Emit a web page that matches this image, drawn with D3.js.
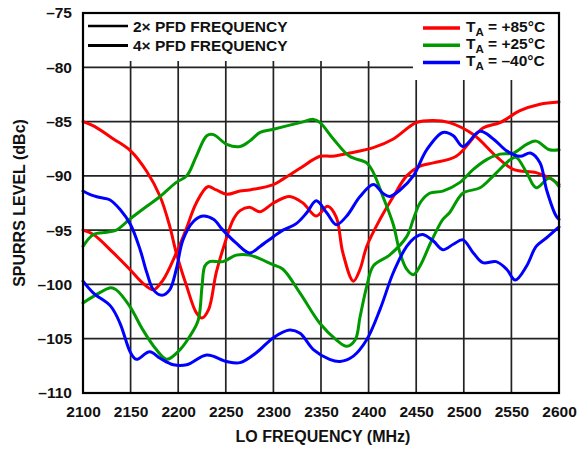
<!DOCTYPE html>
<html>
<head>
<meta charset="utf-8">
<script src="https://cdnjs.cloudflare.com/ajax/libs/d3/7.8.5/d3.min.js"></script>
<style>
  html, body { margin: 0; padding: 0; background: #fff; }
  svg { display: block; }
  text { font-family: "Liberation Sans", Arial, Helvetica, sans-serif; font-weight: bold; fill: #111; }
</style>
</head>
<body>
<div id="chart"></div>
<script>
// ---------- data ----------
const xTicks = [2100, 2150, 2200, 2250, 2300, 2350, 2400, 2450, 2500, 2550, 2600];
const yTicks = [-110, -105, -100, -95, -90, -85, -80, -75];
const xLabel = "LO FREQUENCY (MHz)";
const yLabel = "SPURRS LEVEL (dBc)";
const styleLegend = ["2× PFD FREQUENCY", "4× PFD FREQUENCY"];
const tempLegend = ["+85°C", "+25°C", "–40°C"];
const tempColors = ["#ff0000", "#009a00", "#0000ff"];

// +85°C, 2x PFD
const red2xFreq  = [2100,2111,2132,2150,2167,2181,2191,2198,2209,2219,2225,2232,2240,2249,2258,2265,2275,2286,2300,2317,2331,2345,2357,2366,2373,2384,2391,2398,2412,2426,2440,2454,2468,2492,2520,2538,2559,2580,2600];
const red2xLevel = [-85,-85.4,-86.6,-87.7,-89.6,-91.9,-94.6,-97.1,-100.2,-102.6,-103.1,-102.3,-98.9,-96.2,-94,-93.2,-92.9,-93.3,-92.5,-91.9,-92.5,-93.7,-92.8,-93.8,-97.1,-99.7,-98.6,-96.5,-94,-91.9,-90,-89.1,-88.8,-88.2,-85.6,-85.1,-84,-83.4,-83.2];
// +85°C, 4x PFD
const red4xFreq  = [2100,2111,2132,2149,2163,2174,2184,2198,2208,2219,2231,2240,2251,2265,2275,2300,2310,2328,2349,2362,2380,2405,2426,2450,2468,2485,2510,2534,2552,2576,2590,2600];
const red4xLevel = [-95,-95.4,-97.1,-98.6,-99.9,-100.5,-99.6,-97.1,-95,-92.5,-91,-91.3,-91.7,-91.4,-91.3,-90.8,-90.3,-89.3,-88.2,-88.2,-87.9,-87.4,-86.6,-85.1,-84.9,-85.1,-86.2,-88.2,-89.4,-89.7,-90.2,-90.8];
// +25°C, 2x PFD
const green2xFreq  = [2100,2111,2125,2135,2149,2167,2181,2198,2209,2219,2230,2237,2251,2265,2275,2286,2300,2328,2342,2349,2363,2380,2398,2405,2415,2426,2433,2440,2447,2454,2466,2478,2485,2499,2517,2531,2549,2555,2566,2576,2590,2600];
const green2xLevel = [-96.5,-95.4,-95.2,-95,-94,-92.8,-91.9,-90.6,-90,-88.2,-86.3,-86.2,-87.1,-87.3,-86.8,-86,-85.7,-85.1,-84.8,-85.1,-86.6,-88.2,-88.8,-89.7,-91.9,-94.5,-97.1,-98.6,-99.1,-98.3,-96,-94,-93.4,-91.6,-91.1,-90,-88.5,-88.3,-89.7,-91.1,-90.2,-91];
// +25°C, 4x PFD
const green4xFreq  = [2100,2111,2129,2135,2149,2163,2177,2188,2202,2212,2221,2225,2228,2233,2247,2261,2275,2300,2310,2328,2349,2366,2377,2386,2391,2398,2405,2422,2440,2447,2454,2464,2478,2496,2510,2524,2538,2552,2566,2576,2590,2600];
const green4xLevel = [-101.7,-101.1,-100.3,-100.5,-102,-104.2,-106,-106.9,-106,-104.8,-103.3,-100.2,-98.3,-97.9,-97.9,-97.3,-97.3,-98.2,-98.6,-100.8,-103.6,-105.1,-105.7,-105.1,-103,-100.2,-98.3,-97.3,-95.6,-94,-92.5,-91.6,-91.4,-90.6,-89.4,-88.5,-88,-87.9,-87.1,-86.8,-87.6,-87.6];
// -40°C, 2x PFD
const blue2xFreq  = [2100,2107,2118,2128,2139,2150,2160,2167,2174,2183,2191,2198,2205,2216,2226,2237,2247,2261,2275,2286,2300,2310,2324,2335,2345,2356,2366,2377,2391,2405,2415,2422,2433,2447,2461,2478,2489,2499,2517,2531,2545,2559,2570,2580,2587,2597,2600];
const blue2xLevel = [-91.4,-91.7,-92,-92.2,-93.1,-94.5,-96.8,-98.9,-100.5,-101,-100.5,-98.6,-95.9,-94.2,-93.7,-94,-95,-96.2,-97.1,-96.5,-95.6,-95,-94.4,-93.4,-92.3,-93.4,-94.5,-93.7,-91.9,-90.8,-91.6,-91.9,-91.3,-90,-87.6,-86,-86.3,-87.3,-85.9,-86.6,-87.7,-88.2,-87.9,-88.8,-91.3,-93.7,-94];
// -40°C, 4x PFD
const blue4xFreq  = [2100,2111,2129,2139,2150,2156,2170,2181,2195,2209,2230,2251,2265,2282,2300,2317,2328,2342,2359,2370,2384,2398,2412,2426,2440,2450,2457,2468,2478,2489,2499,2510,2520,2534,2545,2554,2566,2576,2587,2600];
const blue4xLevel = [-99.7,-100.8,-102,-103.6,-106.3,-106.9,-106.2,-106.8,-107.4,-107.4,-106.5,-107.1,-107.2,-106.3,-104.9,-104.2,-104.5,-106,-106.9,-107.1,-106.6,-105.1,-102.3,-98.9,-96.5,-95.6,-95.4,-96,-96.8,-96.3,-95.9,-97.1,-98,-97.9,-98.6,-99.6,-98.3,-96.5,-95.7,-94.7];

const series = [
  { f: red2xFreq,   v: red2xLevel,   color: tempColors[0] },
  { f: red4xFreq,   v: red4xLevel,   color: tempColors[0] },
  { f: green2xFreq, v: green2xLevel, color: tempColors[1] },
  { f: green4xFreq, v: green4xLevel, color: tempColors[1] },
  { f: blue2xFreq,  v: blue2xLevel,  color: tempColors[2] },
  { f: blue4xFreq,  v: blue4xLevel,  color: tempColors[2] }
];

// ---------- layout ----------
const W = 580, H = 449;
const L = 83, R = 559, T = 13, B = 393;

const svg = d3.select("#chart").append("svg").attr("width", W).attr("height", H);

const x = d3.scaleLinear().domain([2100, 2600]).range([L, R]);
const y = d3.scaleLinear().domain([-110, -75]).range([B, T]);
const fmt = d => (d < 0 ? "–" : "") + Math.abs(d);

// grid
const grid = svg.append("g").attr("stroke", "#222").attr("stroke-width", 1.7);
grid.selectAll("line.v").data(xTicks.slice(1, -1)).enter().append("line")
  .attr("x1", d => x(d)).attr("x2", d => x(d)).attr("y1", T).attr("y2", B);
grid.selectAll("line.h").data(yTicks.slice(1, -1)).enter().append("line")
  .attr("x1", L).attr("x2", R).attr("y1", d => y(d)).attr("y2", d => y(d));

// legend backgrounds covering grid
svg.append("rect").attr("x", L).attr("y", T).attr("width", 413 - L).attr("height", 61 - T).attr("fill", "#fff");
svg.append("rect").attr("x", 413).attr("y", T).attr("width", R - 413).attr("height", 80 - T).attr("fill", "#fff");

// curves
const line = d3.line().curve(d3.curveCatmullRom.alpha(0.5))
  .x(d => x(d[0])).y(d => y(d[1]));
svg.append("g").selectAll("path").data(series).enter().append("path")
  .attr("d", s => line(s.f.map((f, i) => [f, s.v[i]])))
  .attr("fill", "none").attr("stroke", s => s.color)
  .attr("stroke-width", 3).attr("stroke-linejoin", "round").attr("stroke-linecap", "round");

// frame
svg.append("rect").attr("x", L).attr("y", T).attr("width", R - L).attr("height", B - T)
  .attr("fill", "none").attr("stroke", "#000").attr("stroke-width", 2.2);

// axes
const yAxis = svg.append("g").attr("transform", `translate(${L},0)`)
  .call(d3.axisLeft(y).tickValues(yTicks).tickFormat(fmt).tickSize(0).tickPadding(11));
const xAxis = svg.append("g").attr("transform", `translate(0,${B})`)
  .call(d3.axisBottom(x).tickValues(xTicks).tickFormat(d => d).tickSize(0).tickPadding(13));
[yAxis, xAxis].forEach(a => {
  a.select(".domain").remove();
  a.selectAll("text").style("font-family", "'Liberation Sans', Arial, sans-serif")
    .style("font-weight", "bold").style("font-size", "15.5px").attr("fill", "#111");
});

// titles
svg.append("text").attr("x", (L + R) / 2 + 2).attr("y", 442).attr("text-anchor", "middle")
  .style("font-size", "16px").text(xLabel);
svg.append("text").attr("transform", `translate(25,${(T + B) / 2}) rotate(-90)`)
  .attr("text-anchor", "middle").style("font-size", "16px").text(yLabel);

// left legend (line styles)
const lg = svg.append("g");
styleLegend.forEach((t, i) => {
  const yy = 26 + i * 19.5;
  lg.append("line").attr("x1", 88).attr("x2", 128).attr("y1", yy).attr("y2", yy)
    .attr("stroke", "#000").attr("stroke-width", i === 0 ? 2.6 : 3);
  lg.append("text").attr("x", 133).attr("y", yy + 5.5).style("font-size", "15.5px").text(t);
});

// right legend (temperatures)
const rg = svg.append("g");
tempLegend.forEach((t, i) => {
  const yy = 28 + i * 17.2;
  rg.append("line").attr("x1", 423).attr("x2", 460).attr("y1", yy).attr("y2", yy)
    .attr("stroke", tempColors[i]).attr("stroke-width", 3.5);
  const tx = rg.append("text").attr("x", 466).attr("y", yy + 4).style("font-size", "15.5px");
  tx.append("tspan").text("T");
  tx.append("tspan").attr("dy", 4).style("font-size", "11.5px").text("A");
  tx.append("tspan").attr("dy", -4).text(" = " + t);
});
</script>
</body>
</html>
